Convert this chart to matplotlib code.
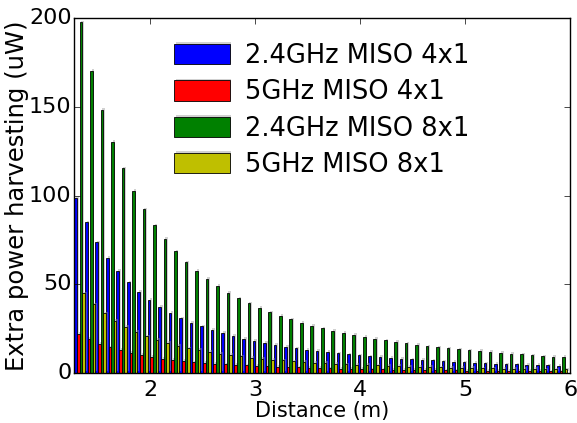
import numpy as np
import matplotlib
matplotlib.use("Agg")
import matplotlib.pyplot as plt
import matplotlib.patheffects as pe

plt.style.use("classic")

# Distance of each measurement point (m)
distance = [1.3, 1.4, 1.5, 1.6, 1.7, 1.8, 1.9, 2.0, 2.1, 2.2, 2.3, 2.4,
            2.5, 2.6, 2.7, 2.8, 2.9, 3.0, 3.1, 3.2, 3.3, 3.4, 3.5, 3.6,
            3.7, 3.8, 3.9, 4.0, 4.1, 4.2, 4.3, 4.4, 4.5, 4.6, 4.7, 4.8,
            4.9, 5.0, 5.1, 5.2, 5.3, 5.4, 5.5, 5.6, 5.7, 5.8, 5.9]

# Extra harvested power (uW)
miso24_4x1 = [98.8, 84.9, 73.6, 64.8, 57.5, 51.1, 45.8, 41.1, 37.4, 34.0, 30.8, 28.3,
              26.3, 24.3, 22.5, 20.9, 19.4, 18.1, 17.0, 15.9, 14.9, 14.0, 13.2, 12.4,
              11.8, 11.2, 10.6, 10.0, 9.5, 9.0, 8.6, 8.2, 7.8, 7.4, 7.1, 6.7,
              6.4, 6.0, 5.7, 5.5, 5.2, 5.0, 4.9, 4.7, 4.5, 4.3, 4.1]
miso5_4x1 = [22.3, 19.2, 16.5, 14.6, 13.0, 11.4, 10.1, 9.0, 8.1, 7.3, 6.8, 6.0,
             5.8, 5.4, 5.0, 4.65, 4.35, 4.05, 3.8, 3.55, 3.35, 3.15, 2.95, 2.8,
             2.65, 2.5, 2.4, 2.25, 2.15, 2.05, 1.95, 1.85, 1.8, 1.7, 1.65, 1.55,
             1.5, 1.45, 1.4, 1.35, 1.3, 1.25, 1.2, 1.15, 1.1, 1.08, 1.05]
miso24_8x1 = [197.7, 170.3, 148.5, 130.3, 115.3, 102.7, 92.2, 83.2, 75.5, 68.7, 62.5, 57.5,
              53.0, 49.0, 45.4, 42.2, 39.3, 36.7, 34.3, 32.2, 30.2, 28.4, 26.8, 25.2,
              23.8, 22.7, 21.4, 20.3, 19.3, 18.4, 17.5, 16.7, 15.8, 15.0, 14.5, 13.9,
              13.4, 12.8, 12.4, 11.8, 11.3, 10.7, 10.5, 10.0, 9.4, 9.2, 9.0]
miso5_8x1 = [44.9, 38.7, 33.6, 29.5, 26.1, 23.1, 20.8, 18.6, 16.9, 15.2, 13.9, 13.0,
             11.8, 10.9, 10.1, 9.4, 8.7, 8.1, 7.6, 7.1, 6.7, 6.3, 5.9, 5.6,
             5.3, 5.0, 4.8, 4.5, 4.3, 4.1, 3.9, 3.7, 3.55, 3.4, 3.25, 3.1,
             3.0, 2.85, 2.75, 2.65, 2.55, 2.45, 2.35, 2.3, 2.2, 2.15, 2.05]

series = [
    (miso24_4x1, "b", "2.4GHz MISO 4x1"),
    (miso5_4x1, "r", "5GHz MISO 4x1"),
    (miso24_8x1, "g", "2.4GHz MISO 8x1"),
    (miso5_8x1, "y", "5GHz MISO 8x1"),
]

x = np.array(distance)
width = 0.025

fig = plt.figure(figsize=(5.77, 4.23), dpi=100, facecolor="w")
ax = fig.add_axes([0.129, 0.118, 0.859, 0.839])

shadow = [pe.SimplePatchShadow(offset=(1.2, 1.2), shadow_rgbFace=(0.6, 0.6, 0.6), alpha=0.45),
          pe.Normal()]

for i, (vals, color, label) in enumerate(series):
    bars = ax.bar(x - width + i * width, vals, width, align="edge",
                  color=color, edgecolor="k", linewidth=0.6, label=label)
    for b in bars:
        b.set_path_effects(shadow)

ax.set_xlim(1.275, 6.0)
ax.set_ylim(0, 200)
ax.set_xticks([2, 3, 4, 5, 6])
ax.set_yticks([0, 50, 100, 150, 200])
ax.tick_params(labelsize=16, direction="in")
ax.tick_params(axis="x", pad=5)
ax.tick_params(axis="y", pad=2)
ax.set_xlabel("Distance (m)", fontsize=15, labelpad=1)
ax.set_ylabel("Extra power harvesting (uW)", fontsize=17.5, labelpad=0)

leg = ax.legend(loc="upper left", bbox_to_anchor=(0.155, 0.995), frameon=False,
                fontsize=18.5, handlelength=2.15, handleheight=0.85,
                handletextpad=0.6, labelspacing=0.4)

fig.savefig("out.png", dpi=100, facecolor="w")
